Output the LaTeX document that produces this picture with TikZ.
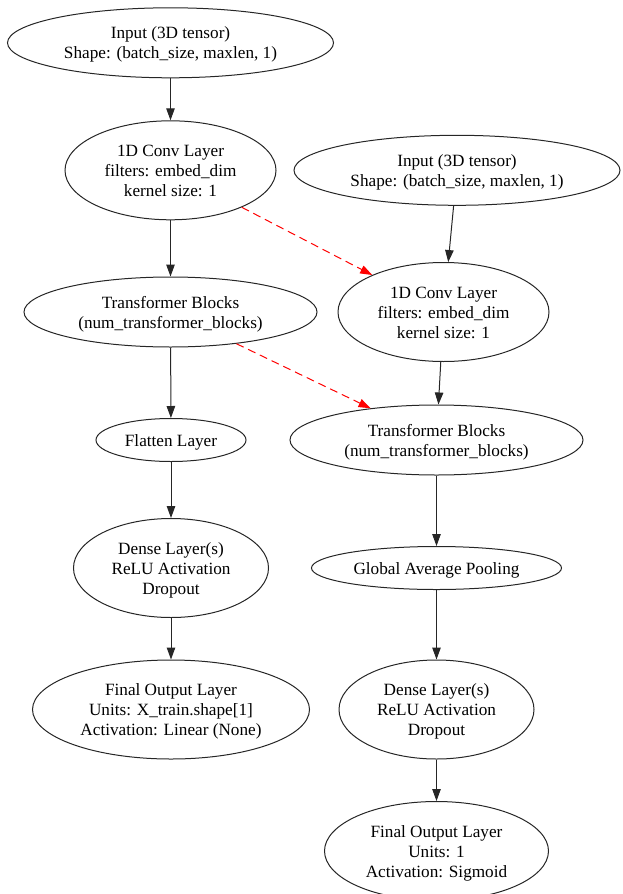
\documentclass[tikz,border=0pt]{standalone}
\usepackage{fontspec}
\setmainfont{Liberation Serif}
\newfontfamily\gvfont{Liberation Serif}
\usetikzlibrary{arrows.meta,shapes.geometric}
\newcommand\gvtext[1]{\raisebox{-2pt}[\height][\depth]{\begin{tabular}{@{}c@{}}#1\end{tabular}}}
\tikzset{
  gnode/.style={ellipse, draw=black!85, line width=1pt, inner xsep=-40pt, inner ysep=-15pt,
    font=\gvfont\fontsize{17.2}{20}\selectfont},
  flow/.style={draw=black!85, line width=1pt, -{Triangle[length=12pt,width=8.5pt]}},
  skipedge/.style={draw=red, line width=1pt, dash pattern=on 8pt off 5pt,
    -{Triangle[length=12pt,width=8.5pt]}}
}
\begin{document}
\begin{tikzpicture}[x=1pt,y=-1pt]
\useasboundingbox (0,0) rectangle (623,894);
% left column
\node[gnode, minimum width=326pt, minimum height=70pt] (inL) at (170.5,42.8) {\gvtext{Input (3D tensor)\\Shape: (batch\_size, maxlen, 1)}};
\node[gnode, minimum width=211pt, minimum height=99pt] (convL) at (170.5,170.3) {\gvtext{1D Conv Layer\\filters: embed\_dim\\kernel size: 1}};
\node[gnode, minimum width=293pt, minimum height=70pt] (trL) at (170.5,312) {\gvtext{Transformer Blocks\\(num\_transformer\_blocks)}};
\node[gnode, minimum width=150pt, minimum height=43pt] (flat) at (171,440) {\gvtext{Flatten Layer}};
\node[gnode, minimum width=195pt, minimum height=99pt] (denL) at (171,568) {\gvtext{Dense Layer(s)\\ReLU Activation\\Dropout}};
\node[gnode, minimum width=277pt, minimum height=99pt] (finL) at (171,709.5) {\gvtext{Final Output Layer\\Units: X\_train.shape[1]\\Activation: Linear (None)}};
% right column
\node[gnode, minimum width=326pt, minimum height=70pt] (inR) at (457,170.3) {\gvtext{Input (3D tensor)\\Shape: (batch\_size, maxlen, 1)}};
\node[gnode, minimum width=211pt, minimum height=99pt] (convR) at (443.5,312) {\gvtext{1D Conv Layer\\filters: embed\_dim\\kernel size: 1}};
\node[gnode, minimum width=293pt, minimum height=70pt] (trR) at (436.5,440) {\gvtext{Transformer Blocks\\(num\_transformer\_blocks)}};
\node[gnode, minimum width=250pt, minimum height=43pt] (gap) at (436.5,568) {\gvtext{Global Average Pooling}};
\node[gnode, minimum width=195pt, minimum height=99pt] (denR) at (436.5,709.5) {\gvtext{Dense Layer(s)\\ReLU Activation\\Dropout}};
\node[gnode, minimum width=224pt, minimum height=99pt] (finR) at (436.5,851) {\gvtext{Final Output Layer\\Units: 1\\Activation: Sigmoid}};
% edges
\draw[flow] (inL) -- (convL);
\draw[flow] (convL) -- (trL);
\draw[flow] (trL) -- (flat);
\draw[flow] (flat) -- (denL);
\draw[flow] (denL) -- (finL);
\draw[flow] (inR) -- (convR);
\draw[flow] (convR) -- (trR);
\draw[flow] (trR) -- (gap);
\draw[flow] (gap) -- (denR);
\draw[flow] (denR) -- (finR);
\draw[skipedge] (convL) -- (convR);
\draw[skipedge] (trL) -- (trR);
\end{tikzpicture}
\end{document}
